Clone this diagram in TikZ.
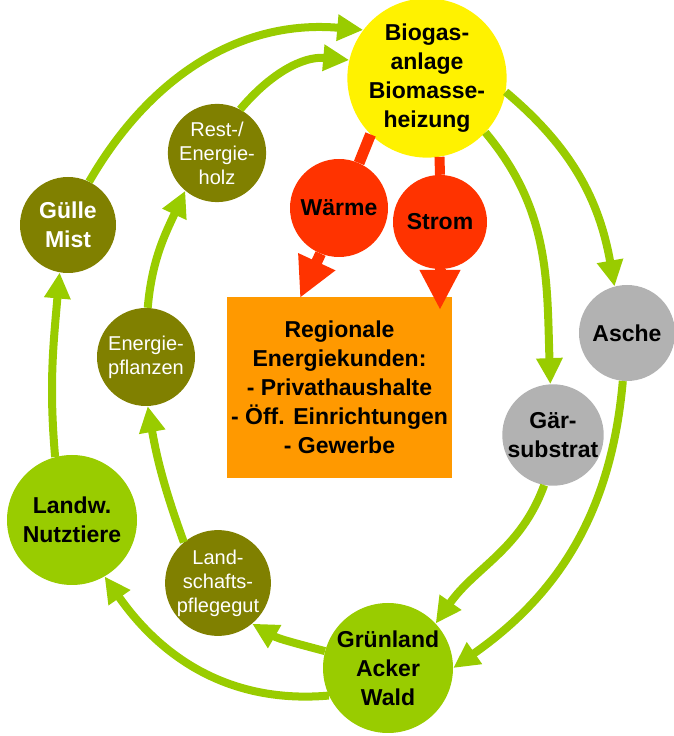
\documentclass[tikz,border=0pt]{standalone}
\usepackage{fontspec}
\setmainfont{Liberation Sans}
\usetikzlibrary{arrows.meta}

\definecolor{lgreen}{HTML}{99CC00}
\definecolor{olive}{HTML}{808000}
\definecolor{hred}{HTML}{FF3300}
\definecolor{orng}{HTML}{FF9900}
\definecolor{ash}{HTML}{B2B2B2}

\tikzset{
  disc/.style = {circle, inner sep = 0pt, minimum size = #1, align = center},
  big/.style = {font = \fontsize{23}{29}\selectfont\bfseries},
  small/.style = {font = \fontsize{20}{24}\selectfont, text = white},
  flow/.style = {line width = 8pt, draw = lgreen, -{Triangle[length = 26pt, width = 25pt]}},
  heat/.style = {line width = 11pt, draw = hred, -{Triangle[length = 40pt, width = 38pt]}}
}

\begin{document}
\begin{tikzpicture}[x = 1pt, y = 1pt]
\useasboundingbox (0, 0) rectangle (673, 736);
%\draw[very thin, color = gray](0, 0) grid[step = 50] (673, 736);
\node (biogas) [disc = 138, fill = yellow, big] at (427, 658) {Biogas-\\anlage\\Biomasse-\\heizung};
\node (rest) [disc = 94, fill = olive, small] at (217, 583) {Rest-/\\Energie-\\holz};
\node (guelle) [disc = 96, fill = olive, big, text = white] at (68, 511) {Gülle\\Mist};
\node (energiepfl) [disc = 98, fill = olive, small] at (146, 379) {Energie-\\pflanzen};
\node (waerme) [disc = 98, fill = hred, big] at (339, 528) {Wärme};
\node (strom) [disc = 94, fill = hred, big] at (440, 514) {Strom};
\node (kunden) [fill = orng, minimum width = 225, minimum height = 181, align = center, big] at (339.5, 348.5)
  {Regionale\\Energiekunden:\\- Privathaushalte\\- Öff. Einrichtungen\\- Gewerbe};
\node (asche) [disc = 96, fill = ash, big] at (627, 403) {Asche};
\node (gaer) [disc = 98, fill = ash, big] at (553, 301) {Gär-\\substrat};
\node (landw) [disc = 130, fill = lgreen, big] at (72, 216) {Landw.\\Nutztiere};
\node (landschaft) [disc = 98, fill = olive, small] at (218, 153) {Land-\\schafts-\\pflegegut};
\node (gruen) [disc = 130, fill = lgreen, big] at (388, 68) {Grünland\\Acker\\Wald};
\coordinate (tipW) at (300, 438);
\coordinate (tipS) at (440, 426);

% outer loop
\draw [flow] (gruen.205) to[out = 185, in = -55] (landw.-60);
\draw [flow] (landw.105) to[out = 95, in = -95] (guelle.-100);
\draw [flow] (guelle.64) to[out = 60, in = 175] (biogas.143);
\draw [flow] (biogas.-10) to[out = -40, in = 100] (asche.105);
\draw [flow] (asche.-95) to[out = -95, in = 35] (gruen.0);
% inner loop
\draw [flow] (gruen.165) to[out = 165, in = -30] (landschaft.-50);
\draw [flow] (landschaft.130) to[out = 110, in = -80] (energiepfl.-88);
\draw [flow] (energiepfl.88) to[out = 85, in = -115] (rest.-130);
\draw [flow] (rest.62) to[out = 50, in = 175] (biogas.167);
\draw [flow] (biogas.-43) to[out = -50, in = 92] (gaer.93);
\draw [flow] (gaer.-100) to[out = -110, in = 55] (gruen.43);
% heat and power
\draw [line width = 11pt, hred] (biogas.-135) -- (waerme.66);
\draw [line width = 10pt, hred] (biogas.-81) -- (strom.north);
\draw [heat] (waerme.-112) -- (tipW);
\draw [heat] (strom.south) -- (tipS);
\end{tikzpicture}
\end{document}
